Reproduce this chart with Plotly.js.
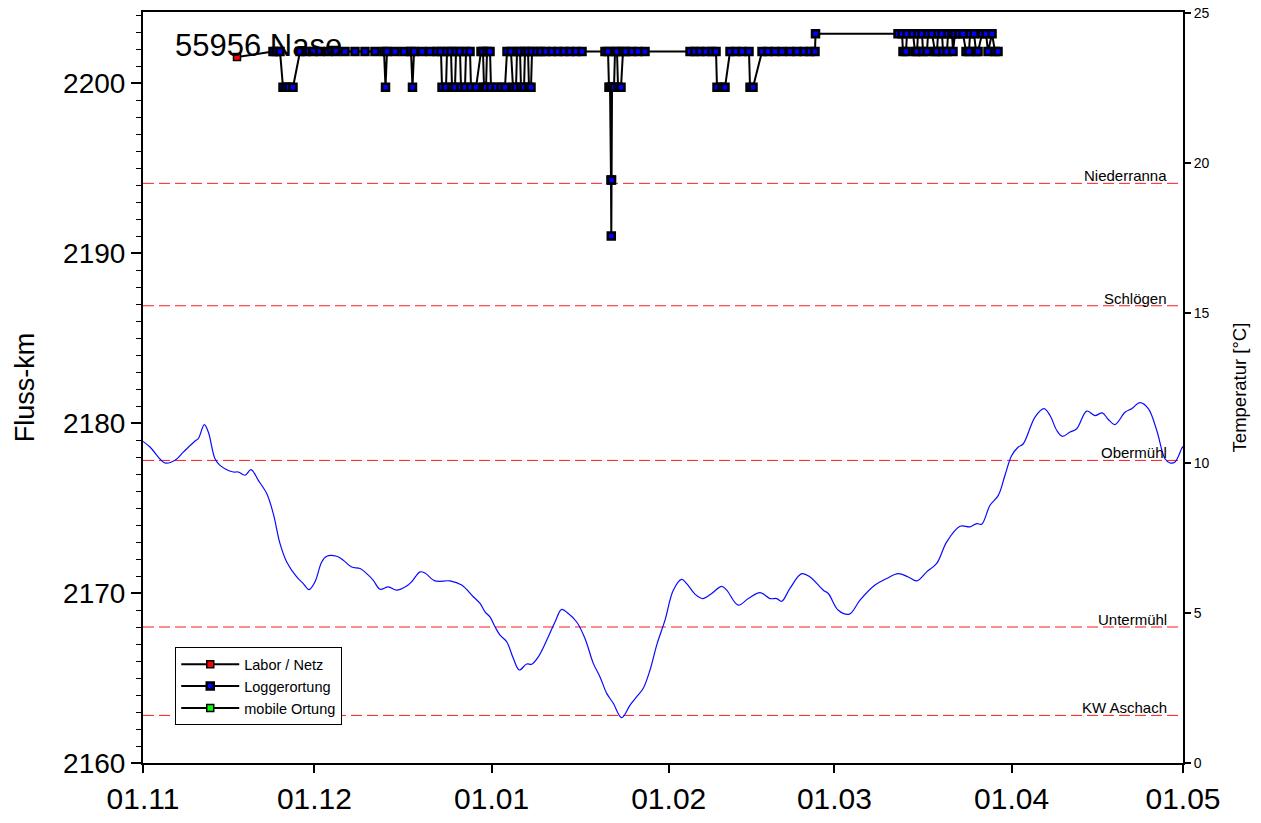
<!DOCTYPE html>
<html>
<head>
<meta charset="utf-8">
<script src="https://cdn.plot.ly/plotly-3.0.1.min.js"></script>
<style>
  html, body { margin: 0; padding: 0; background: #fff; }
  #chart { width: 1261px; height: 823px; }
</style>
</head>
<body>
<div id="chart"></div>
<script>
// Season start: all times below are days after 01.11.2011
const seasonStart = Date.UTC(2011, 10, 1);

// Water temperature (right axis)
const tempDay = [0, 1.23, 3.85, 5.6, 7.05, 9.1, 9.68, 10.73, 11.43, 12.6, 13.48, 15.8, 16.68, 17.85, 18.9,
  20.18, 21.65, 22.8, 23.98, 25.15, 26.9, 28.05, 29.05, 30.1, 31.27, 32.15, 33.9, 35.05, 36.52, 37.98,
  39.43, 40.3, 41.48, 42.93, 44.4, 46.15, 47.02, 48.48, 49.35, 51.1, 53.73, 55.77, 57.8, 58.98, 59.85,
  60.72, 61.6, 62.48, 63.65, 64.8, 65.85, 67.15, 68.02, 69.18, 70.65, 72.1, 73.27, 74.43, 75.9, 77.35,
  78.8, 79.98, 81.15, 82.3, 83.77, 85.23, 86.4, 87.55, 88.73, 89.9, 91.35, 92.8, 94.27, 95.15, 96.6,
  97.95, 99.52, 101.27, 102.15, 104.18, 105.93, 107.98, 109.73, 110.9, 111.77, 113.22, 115.27, 116.73,
  119.05, 119.93, 121.68, 123.6, 125.48, 128.1, 130.15, 132.17, 133.93, 135.4, 137.15, 138.9, 140.65,
  142.98, 144.73, 145.9, 146.77, 148.23, 149.68, 150.85, 152.02, 153.18, 154.05, 156.1, 157.68, 158.73,
  159.9, 160.88, 162.23, 163.4, 165.15, 166.6, 167.88, 168.93, 170.1, 171.85, 173.02, 174.48, 175.93,
  177.4, 178.85, 179.73, 180.6, 181.77, 182];
const tempC = [10.72, 10.53, 10.0, 10.09, 10.36, 10.73, 10.81, 11.28, 11.03, 10.14, 9.92, 9.70, 9.70, 9.59, 9.78,
  9.42, 8.98, 8.31, 7.31, 6.70, 6.20, 5.98, 5.78, 6.04, 6.70, 6.89, 6.89, 6.76, 6.53, 6.48,
  6.26, 6.09, 5.79, 5.87, 5.76, 5.90, 6.04, 6.37, 6.33, 6.07, 6.07, 5.93, 5.54, 5.32, 5.04,
  4.87, 4.54, 4.26, 4.04, 3.49, 3.10, 3.30, 3.29, 3.54, 4.09, 4.70, 5.12, 4.98, 4.70, 4.15,
  3.32, 2.87, 2.32, 1.99, 1.51, 1.93, 2.21, 2.49, 3.10, 3.93, 4.76, 5.76, 6.12, 5.98, 5.63,
  5.48, 5.65, 5.89, 5.76, 5.26, 5.48, 5.68, 5.48, 5.48, 5.39, 5.82, 6.31, 6.20,
  5.76, 5.65, 5.09, 4.96, 5.43, 5.93, 6.15, 6.31, 6.20, 6.07, 6.37, 6.65, 7.37,
  7.89, 7.87, 7.98, 7.96, 8.59, 8.92, 9.59, 10.25, 10.53, 10.64, 11.53, 11.81, 11.58,
  11.09, 10.89, 11.03, 11.14, 11.73, 11.58, 11.67, 11.45, 11.28, 11.69, 11.81, 12.01, 11.81,
  11.09, 10.14, 10.0, 10.03, 10.48, 10.55];

// Tagging / capture position
const laborDay = [16.45];
const laborKm = [2201.53];

// Logger detections (river km)
const loggerDay = [
  22.75, 23.28, 23.98, 24.5, 25.03, 25.55, 26.25, 27.48, 28.53, 29.75, 30.98, 32.38, 33.78, 35.35,
  37.1, 38.85, 40.6, 42.18, 42.44, 42.7, 44.1, 45.68, 46.9, 47.16, 47.43, 48.83, 50.23, 51.45,
  52.15, 52.33, 53.03, 53.2, 53.9, 54.08, 54.6, 54.78, 55.48, 55.65, 56.35, 56.53, 57.23, 57.4, 58.28,
  59.15, 59.5, 59.68, 60.03, 60.2, 60.73, 60.9, 61.78, 62.65, 63.35,
  63.7, 64.4, 64.75, 65.28, 65.45, 65.98, 66.15, 66.68, 66.85, 67.38, 67.55, 67.9, 68.08,
  68.95, 69.65, 70.53, 71.58, 72.63, 73.68, 74.73, 75.78, 76.83,
  80.85, 81.38, 81.55, 81.73, 81.9, 81.95, 82.0, 82.08, 82.43, 82.6, 82.95, 83.13, 83.65, 84.0,
  84.53, 85.58, 86.63, 87.85,
  95.73, 96.6, 97.48, 98.53, 99.58, 100.28, 100.45, 101.33, 101.85, 102.73, 103.78, 104.83, 106.05,
  106.23, 106.75,
  108.33, 109.38, 110.6, 111.83, 113.23, 114.45, 115.68, 116.73, 117.6, 117.69,
  132.13, 132.83, 133.0, 133.53, 133.7, 134.75, 135.1, 135.45, 135.63, 136.33, 136.5, 137.2, 137.38,
  138.08, 138.6, 138.95, 139.13, 139.83, 140.0, 140.7, 140.88, 141.58, 141.75,
  142.1, 142.8, 143.5, 144.03, 144.55, 144.73, 145.43, 145.78, 146.13, 146.83, 147.53, 147.88,
  148.58, 149.1, 149.63];
const loggerKm = [
  2201.85, 2201.85, 2201.85, 2199.75, 2199.75, 2199.75, 2199.75, 2201.85, 2201.85, 2201.85, 2201.85, 2201.85, 2201.85, 2201.85,
  2201.85, 2201.85, 2201.85, 2201.85, 2199.75, 2201.85, 2201.85, 2201.85, 2201.85, 2199.75, 2201.85, 2201.85, 2201.85, 2201.85,
  2201.85, 2199.75, 2199.75, 2201.85, 2201.85, 2199.75, 2199.75, 2201.85, 2201.85, 2199.75, 2199.75, 2201.85, 2201.85, 2199.75, 2199.75,
  2201.85, 2201.85, 2199.75, 2199.75, 2201.85, 2201.85, 2199.75, 2199.75, 2199.75, 2199.75,
  2201.85, 2201.85, 2199.75, 2199.75, 2201.85, 2201.85, 2199.75, 2199.75, 2201.85, 2201.85, 2199.75, 2199.75, 2201.85,
  2201.85, 2201.85, 2201.85, 2201.85, 2201.85, 2201.85, 2201.85, 2201.85, 2201.85,
  2201.85, 2201.85, 2199.75, 2199.75, 2194.3, 2191.0, 2194.3, 2199.75, 2199.75, 2201.85, 2201.85, 2199.75, 2199.75, 2201.85,
  2201.85, 2201.85, 2201.85, 2201.85,
  2201.85, 2201.85, 2201.85, 2201.85, 2201.85, 2201.85, 2199.75, 2199.75, 2199.75, 2201.85, 2201.85, 2201.85, 2201.85,
  2199.75, 2199.75,
  2201.85, 2201.85, 2201.85, 2201.85, 2201.85, 2201.85, 2201.85, 2201.85, 2201.85, 2202.9,
  2202.9, 2202.9, 2201.85, 2201.85, 2202.9, 2202.9, 2201.85, 2201.85, 2202.9, 2202.9, 2201.85, 2201.85, 2202.9,
  2202.9, 2201.85, 2201.85, 2202.9, 2202.9, 2201.85, 2201.85, 2202.9, 2202.9, 2201.85,
  2202.9, 2202.9, 2202.9, 2201.85, 2201.85, 2202.9, 2202.9, 2201.85, 2201.85, 2202.9, 2202.9, 2201.85,
  2202.9, 2201.85, 2201.85];

// Mobile tracking: no fixes for this fish
const mobileDay = [];
const mobileKm = [];

// Reference sites along the river
const stationNames = ['Niederranna', 'Schlögen', 'Obermühl', 'Untermühl', 'KW Aschach'];
const stationKm = [2194.1, 2186.9, 2177.8, 2168.0, 2162.8];

const fishLabel = '55956 Nase';
const seriesNames = ['Labor / Netz', 'Loggerortung', 'mobile Ortung'];
const monthTicks = ['2011-11-01', '2011-12-01', '2012-01-01', '2012-02-01', '2012-03-01', '2012-04-01', '2012-05-01'];

function toDate(d) {
  return new Date(seasonStart + d * 86400000).toISOString().replace('T', ' ').replace('Z', '');
}

const FONT = 'Arial, "Liberation Sans", sans-serif';

function squareMarker(fill, edge) {
  return { symbol: 'square', size: 7, color: fill, line: { color: 'black', width: edge } };
}

const traces = [
  {
    x: tempDay.map(toDate), y: tempC, yaxis: 'y2', type: 'scatter', mode: 'lines',
    line: { color: '#0a0aff', width: 1.2, shape: 'spline', smoothing: 1 },
    showlegend: false, hoverinfo: 'skip'
  },
  {
    // link from tagging site to first logger fix
    x: [laborDay[0], loggerDay[0]].map(toDate), y: [laborKm[0], loggerKm[0]],
    type: 'scatter', mode: 'lines', line: { color: 'black', width: 2 }, showlegend: false
  },
  {
    x: laborDay.map(toDate), y: laborKm, type: 'scatter', mode: 'lines+markers', name: seriesNames[0],
    line: { color: 'black', width: 2 }, marker: squareMarker('#ff0000', 1.5)
  },
  {
    x: loggerDay.map(toDate), y: loggerKm, type: 'scatter', mode: 'lines+markers', name: seriesNames[1],
    line: { color: 'black', width: 2 }, marker: squareMarker('#0000ff', 2.5)
  },
  {
    x: mobileDay.length ? mobileDay.map(toDate) : [null], y: mobileKm.length ? mobileKm : [null],
    type: 'scatter', mode: 'lines+markers', name: seriesNames[2],
    line: { color: 'black', width: 2 }, marker: squareMarker('#00ff00', 1.5)
  }
];

const shapes = stationKm.map(km => ({
  type: 'line', xref: 'paper', x0: 0, x1: 1, yref: 'y', y0: km, y1: km,
  line: { color: '#ff1a1a', width: 1, dash: '11px,5px' }, layer: 'below'
}));

const annotations = stationNames.map((name, i) => ({
  xref: 'paper', x: 0.987, xanchor: 'right', yref: 'y', y: stationKm[i], yanchor: 'bottom',
  text: name, showarrow: false, font: { family: FONT, size: 15, color: 'black' }, yshift: -3
}));
annotations.push({
  xref: 'paper', x: 0.029, xanchor: 'left', yref: 'paper', y: 0.955, yanchor: 'middle',
  text: fishLabel, showarrow: false, font: { family: FONT, size: 31, color: 'black' }
});

const layout = {
  width: 1261, height: 823,
  margin: { l: 143, r: 78, t: 12, b: 60, pad: 0 },
  paper_bgcolor: 'white', plot_bgcolor: 'white',
  font: { family: FONT, color: 'black' },
  showlegend: true,
  legend: {
    x: 0.031, y: 0.154, xanchor: 'left', yanchor: 'top',
    bgcolor: 'white', bordercolor: 'black', borderwidth: 1,
    font: { family: FONT, size: 14.5, color: 'black' },
    traceorder: 'normal', itemwidth: 58, tracegroupgap: 0
  },
  xaxis: {
    type: 'date', range: [monthTicks[0], monthTicks[monthTicks.length - 1]],
    tickvals: monthTicks, tickformat: '%d.%m',
    ticks: 'outside', ticklen: 8, tickwidth: 2, tickcolor: 'black',
    showline: true, linewidth: 2, linecolor: 'black', mirror: true,
    showgrid: false, zeroline: false,
    tickfont: { family: FONT, size: 30, color: 'black' }
  },
  yaxis: {
    range: [2160, 2204.18], dtick: 10, tick0: 2160,
    ticks: 'outside', ticklen: 10, tickwidth: 2, tickcolor: 'black',
    minor: { dtick: 1, ticks: 'outside', ticklen: 5, tickwidth: 1, tickcolor: 'black', showgrid: false },
    showline: true, linewidth: 2, linecolor: 'black',
    showgrid: false, zeroline: false,
    tickfont: { family: FONT, size: 28, color: 'black' },
    title: { text: 'Fluss-km', font: { family: FONT, size: 27, color: 'black' }, standoff: 21 }
  },
  yaxis2: {
    overlaying: 'y', side: 'right', range: [0, 25.03], dtick: 5, tick0: 0,
    ticks: 'outside', ticklen: 6, tickwidth: 1.5, tickcolor: 'black',
    showline: true, linewidth: 2, linecolor: 'black',
    showgrid: false, zeroline: false,
    tickfont: { family: FONT, size: 14, color: 'black' },
    title: { text: 'Temperatur [°C]', font: { family: FONT, size: 18.5, color: 'black' }, standoff: 24 }
  },
  shapes: shapes,
  annotations: annotations
};

Plotly.newPlot('chart', traces, layout, { displayModeBar: false, staticPlot: true });
</script>
</body>
</html>
